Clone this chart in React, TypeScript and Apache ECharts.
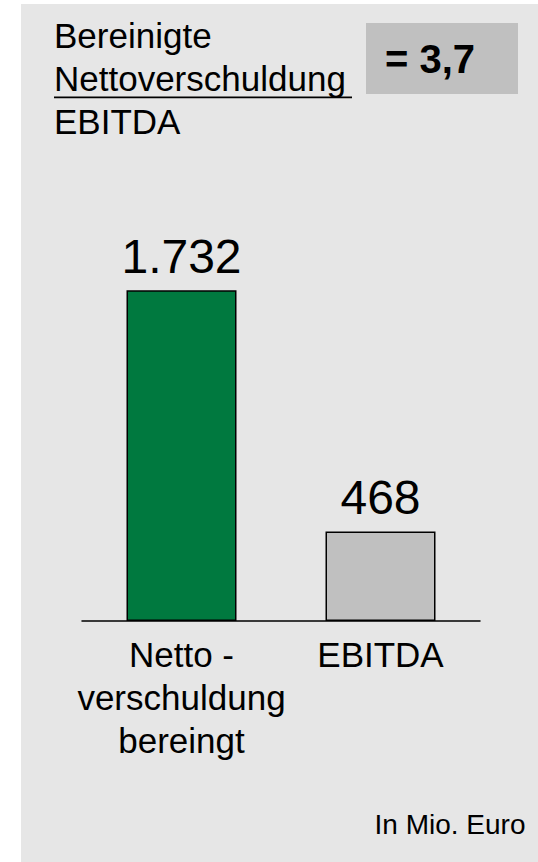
import React, { useEffect, useRef } from "react";
import * as echarts from "echarts";

const categories: string[] = ["Netto -\nverschuldung\nbereingt", "EBITDA"];
const values: number[] = [1732, 468];
const barColors: string[] = ["#00793f", "#c0c0c0"];
const titleLines: string[] = ["Bereinigte", "Nettoverschuldung", "EBITDA"];
const ratioText = "= 3,7";
const unitText = "In Mio. Euro";

const FONT = "'Liberation Sans', Arial, Helvetica, sans-serif";

function fmt(v: number): string {
  return String(v).replace(/\B(?=(\d{3})+(?!\d))/g, ".");
}

export default function App() {
  const ref = useRef<HTMLDivElement>(null);
  useEffect(() => {
    if (!ref.current) return;
    const chart = echarts.init(ref.current, undefined, { renderer: "svg" });
    const option: any = {
      animation: false,
      backgroundColor: "#ffffff",
      grid: { left: 82, right: 58, top: 239, bottom: 241, containLabel: false },
      xAxis: {
        type: "category",
        data: categories,
        axisLine: { show: true, lineStyle: { color: "#000000", width: 1.5 } },
        axisTick: { show: false },
        axisLabel: {
          interval: 0,
          color: "#000000",
          fontFamily: FONT,
          fontSize: 35,
          lineHeight: 43,
          margin: 12,
        },
      },
      yAxis: {
        type: "value",
        min: 0,
        max: 2000,
        show: false,
        splitLine: { show: false },
      },
      series: [
        {
          type: "bar",
          barWidth: 110,
          data: values.map((v, i) => ({
            value: v,
            itemStyle: { color: barColors[i], borderColor: "#000000", borderWidth: 1.5 },
          })),
          label: {
            show: true,
            position: "top",
            distance: 10,
            color: "#000000",
            fontFamily: FONT,
            fontSize: 48,
            formatter: (p: any) => fmt(p.value),
          },
        },
      ],
      graphic: [
        {
          type: "rect",
          z: -10,
          silent: true,
          shape: { x: 21, y: 4, width: 517, height: 858 },
          style: { fill: "#e6e6e6" },
        },
        ...titleLines.map((t, i) => ({
          type: "text",
          x: 54,
          y: [35.6, 78.9, 121.9][i],
          style: {
            text: t,
            fill: "#000000",
            font: `35px ${FONT}`,
            align: "left",
            verticalAlign: "middle",
          },
        })),
        {
          type: "line",
          shape: { x1: 54, y1: 97.3, x2: 352, y2: 97.3 },
          style: { stroke: "#000000", lineWidth: 1.8 },
        },
        {
          type: "rect",
          shape: { x: 366, y: 23, width: 152, height: 71 },
          style: { fill: "#c0c0c0" },
        },
        {
          type: "text",
          x: 385,
          y: 59.4,
          style: {
            text: ratioText,
            fill: "#000000",
            font: `bold 40px ${FONT}`,
            align: "left",
            verticalAlign: "middle",
          },
        },
        {
          type: "text",
          x: 525.5,
          y: 824.6,
          style: {
            text: unitText,
            fill: "#000000",
            font: `28px ${FONT}`,
            align: "right",
            verticalAlign: "middle",
          },
        },
      ],
    };
    chart.setOption(option);
    return () => chart.dispose();
  }, []);
  return (
    <div
      ref={ref}
      style={{ position: "absolute", left: 0, top: 0, width: 538, height: 862 }}
    />
  );
}
